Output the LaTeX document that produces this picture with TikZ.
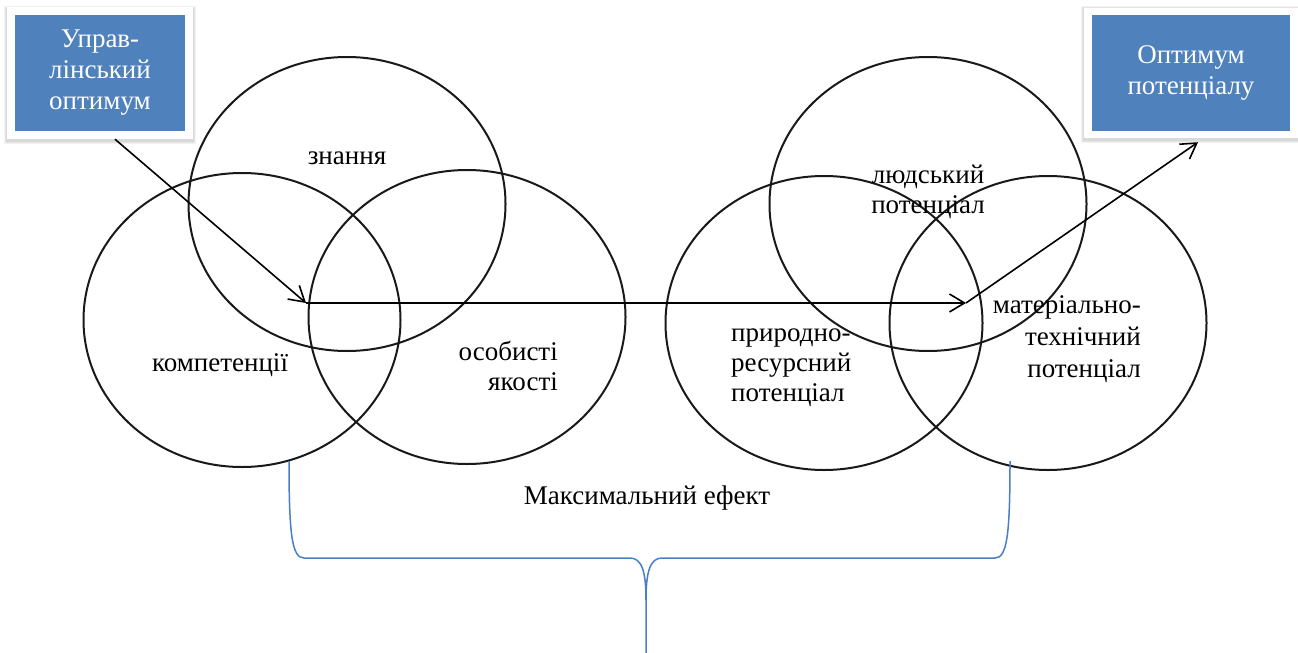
\documentclass[tikz,border=0pt]{standalone}
\usepackage{fontspec}
\setmainfont{Liberation Serif}
\newfontfamily\lblfont{Liberation Serif}
\usetikzlibrary{arrows.meta,shapes.geometric}
\definecolor{boxblue}{HTML}{4F81BD}
\definecolor{bracecol}{HTML}{4A7EC7}
\begin{document}
\begin{tikzpicture}[x=1pt,y=-1pt,
  venn/.style={ellipse, draw=black!90, line width=2pt, minimum width=317pt, minimum height=294pt, inner sep=0pt},
  lbl/.style={font=\lblfont\fontsize{27}{30}\selectfont, inner sep=0pt},
  frame/.style={rectangle, fill=white, draw=none},
  bluebox/.style={rectangle, fill=boxblue, draw=none, text=white, font=\lblfont\fontsize{27}{31}\selectfont, align=center, inner sep=0pt},
  arr/.style={line width=1.6pt, -{Straight Barb[length=15pt,width=18pt,line width=1.6pt]}},
  bracepath/.style={draw=bracecol, line width=1.5pt}
]
\useasboundingbox[fill=white] (0,0) rectangle (1298,653);

% circles
\node[venn] (komp) at (242,320) {};
\node[venn] (znan) at (347,204) {};
\node[venn] (osob) at (467,317) {};
\node[venn] (pryr) at (824,323) {};
\node[venn] (lyud) at (928,204) {};
\node[venn] (mat)  at (1048,323) {};

% labels
\node[lbl] (tznan) at (347,158) {знання};
\node[lbl] (tkomp) at (220,365) {компетенції};
\node[lbl, anchor=east, align=right] (tosob) at (558,366) {особисті\\якості};
\node[lbl, align=center] (tlyud) at (928,192) {людський\\потенціал};
\node[lbl, anchor=west, align=left] (tpryr) at (731,368) {природно-\\ресурсний\\потенціал};
\node[lbl, anchor=east, align=right, font=\lblfont\fontsize{27}{32}\selectfont] (tmat) at (1141,339) {матеріально-\\технічний\\потенціал};
\node[lbl] (tmax) at (647,498) {Максимальний ефект};

% soft shadows of the frames
\foreach \g in {2,4,6}{
  \fill[black, fill opacity=0.05] (7-\g/2,9-\g/2) rectangle (193+\g/2,141+\g/2);
  \fill[black, fill opacity=0.05] (1084-\g/2,9-\g/2) rectangle (1298,140+\g/2);
}
% boxes
\node[frame, minimum width=186pt, minimum height=132pt] (f1) at (100,73) {};
\node[bluebox, minimum width=170pt, minimum height=116pt] (b1) at (100,73) {Управ-\\лінський\\оптимум};
\node[frame, minimum width=214pt, minimum height=130pt] (f2) at (1191,73) {};
\node[bluebox, minimum width=198pt, minimum height=116pt] (b2) at (1191,73) {Оптимум\\потенціалу};

% arrows
\coordinate (c1) at (306,303);
\coordinate (c2) at (966,303);
\draw[arr] ([xshift=15pt]f1.south) -- (c1);
\draw[arr] (c1) -- (c2);
\draw[arr] (c2) -- ([xshift=7pt,yshift=-4pt]f2.south);

% brace
\coordinate (bl) at (289,461);
\coordinate (br) at (1010,461);
\coordinate (bm) at (646,600);
\coordinate (bend) at (646,653);
\draw[bracepath] (bl) .. controls (289,535) and (292,558) .. (304,558) -- (630,558) .. controls (642,558) and (646,572) .. (bm) -- (bend);
\draw[bracepath] (br) .. controls (1010,535) and (1007,558) .. (995,558) -- (662,558) .. controls (650,558) and (646,572) .. (bm);
\end{tikzpicture}
\end{document}
